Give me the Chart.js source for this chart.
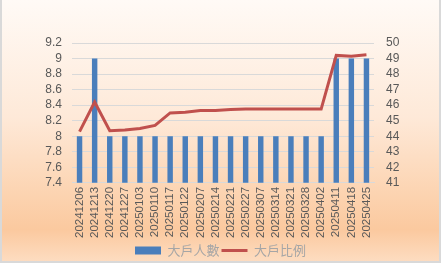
<!DOCTYPE html>
<html>
<head>
<meta charset="utf-8">
<script src="https://cdn.jsdelivr.net/npm/chart.js@4"></script>
<style>
  html, body { margin: 0; padding: 0; background: #ffffff; }
  #wrap {
    position: absolute; left: 0; top: 0;
    width: 437px; height: 261px;
    border-left: 2px solid #d9d9d9;
    border-right: 2px solid #d9d9d9;
    border-bottom: 2px solid #d9d9d9;
    background: linear-gradient(to bottom, #fffaf6 0%, #fee9d8 45%, #fcd3b0 75%, #fbc99f 88%, #fddcc0 100%);
  }
</style>
</head>
<body>
<div id="wrap"><canvas id="chart" width="437" height="261"></canvas></div>
<script>
// data
const dates = ['20241206', '20241213', '20241220', '20241227', '20250103', '20250110', '20250117',
  '20250122', '20250207', '20250214', '20250221', '20250227', '20250307', '20250314', '20250321',
  '20250328', '20250402', '20250411', '20250418', '20250425'];
const holders = [8, 9, 8, 8, 8, 8, 8, 8, 8, 8, 8, 8, 8, 8, 8, 8, 8, 9, 9, 9];
const ratio = [44.3, 46.2, 44.35, 44.4, 44.5, 44.7, 45.5, 45.55, 45.65, 45.65, 45.72, 45.75,
  45.75, 45.75, 45.75, 45.75, 45.75, 49.2, 49.15, 49.25];

const textColor = '#595959';
const gridColor = '#d9d9d9';

new Chart(document.getElementById('chart'), {
  type: 'bar',
  data: {
    labels: dates,
    datasets: [
      {
        type: 'line',
        label: '大戶比例',
        data: ratio,
        yAxisID: 'y1',
        borderColor: '#c0504d',
        backgroundColor: '#c0504d',
        borderWidth: 3,
        pointRadius: 0,
        tension: 0,
        pointStyle: 'line',
        order: 0
      },
      {
        label: '大戶人數',
        data: holders,
        yAxisID: 'y',
        backgroundColor: '#4a7ebb',
        barPercentage: 0.36,
        categoryPercentage: 1,
        pointStyle: 'rect',
        order: 1
      }
    ]
  },
  options: {
    responsive: false,
    animation: false,
    layout: { padding: { top: 43, right: 0, bottom: 0, left: 0 } },
    scales: {
      x: {
        grid: { display: false, drawTicks: false },
        border: { display: true, color: gridColor },
        ticks: {
          color: textColor,
          font: { family: 'Liberation Sans', size: 11.5 },
          minRotation: 90, maxRotation: 90,
          autoSkip: false,
          padding: 4
        }
      },
      y: {
        position: 'left',
        min: 7.4, max: 9.2,
        grid: { color: gridColor, drawTicks: false },
        border: { display: false },
        ticks: {
          stepSize: 0.2,
          autoSkip: false,
          color: textColor,
          font: { family: 'Liberation Sans', size: 12 },
          padding: 10,
          callback: v => Math.round(v * 10) / 10
        },
        afterFit: s => { s.width = 70; }
      },
      y1: {
        position: 'right',
        min: 41, max: 50,
        grid: { display: false, drawTicks: false },
        border: { display: false },
        ticks: {
          stepSize: 1,
          autoSkip: false,
          color: textColor,
          font: { family: 'Liberation Sans', size: 12 },
          padding: 12
        },
        afterFit: s => { s.width = 65; }
      }
    },
    plugins: {
      tooltip: { enabled: false },
      legend: {
        position: 'bottom',
        maxHeight: 19,
        labels: {
          usePointStyle: true,
          pointStyleWidth: 26,
          boxHeight: 8,
          padding: 2,
          color: '#a6a6a6',
          font: { family: 'Noto Sans CJK TC', size: 13 },
          sort: (a, b) => b.datasetIndex - a.datasetIndex
        }
      }
    }
  }
});
</script>
</body>
</html>
